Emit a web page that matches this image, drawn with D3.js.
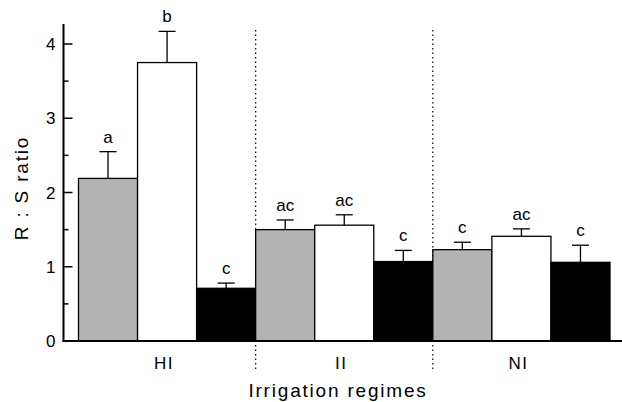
<!DOCTYPE html>
<html>
<head>
<meta charset="utf-8">
<script src="https://cdn.jsdelivr.net/npm/d3@7"></script>
<style>
  body { margin: 0; background: #fff; }
  text { font-family: "Liberation Sans", Arial, sans-serif; fill: #000; }
</style>
</head>
<body>
<svg width="622" height="402"></svg>
<script>
const regimes = ["HI", "II", "NI"];
const treatments = ["gray", "white", "black"];
const fills = ["#b3b3b3", "#ffffff", "#000000"];

// mean R:S ratio per regime, one array per treatment
const grayVals = [2.19, 1.50, 1.23];
const whiteVals = [3.75, 1.56, 1.41];
const blackVals = [0.71, 1.07, 1.06];
// standard error
const grayErr = [0.36, 0.13, 0.10];
const whiteErr = [0.42, 0.14, 0.10];
const blackErr = [0.07, 0.15, 0.23];
// significance letters
const grayLetters = ["a", "ac", "c"];
const whiteLetters = ["b", "ac", "ac"];
const blackLetters = ["c", "c", "c"];

const yTicks = [0, 1, 2, 3, 4];
const yMinor = [0.5, 1.5, 2.5, 3.5];

const vals = [grayVals, whiteVals, blackVals];
const errs = [grayErr, whiteErr, blackErr];
const letters = [grayLetters, whiteLetters, blackLetters];

const data = [];
regimes.forEach((r, i) => {
    treatments.forEach((t, j) => {
        data.push({ regime: r, t: t, idx: j, v: vals[j][i], e: errs[j][i], l: letters[j][i] });
    });
});

const svg = d3.select("svg");

const axisX = 63.5;
const y = d3.scaleLinear().domain([0, 4]).range([341, 44]);

const x0 = d3.scaleBand().domain(regimes).range([78.5, 610]).padding(0);
const x1 = d3.scaleBand().domain(treatments).range([0, x0.bandwidth()]).padding(0);

// dotted separators
svg.selectAll(".sep")
    .data(regimes.slice(1))
    .enter()
    .append("line")
    .attr("x1", d => x0(d))
    .attr("x2", d => x0(d))
    .attr("y1", 30)
    .attr("y2", 371)
    .attr("stroke", "#000")
    .attr("stroke-width", 1.2)
    .attr("stroke-dasharray", "1.5,3");

// bars
svg.selectAll(".bar")
    .data(data)
    .enter()
    .append("rect")
    .attr("x", d => x0(d.regime) + x1(d.t))
    .attr("y", d => y(d.v))
    .attr("width", x1.bandwidth())
    .attr("height", d => y(0) - y(d.v))
    .attr("fill", d => fills[d.idx])
    .attr("stroke", "#000")
    .attr("stroke-width", 1.3);

// error bars
const cx = d => x0(d.regime) + x1(d.t) + x1.bandwidth() / 2;
svg.selectAll(".err")
    .data(data)
    .enter()
    .append("line")
    .attr("x1", cx)
    .attr("x2", cx)
    .attr("y1", d => y(d.v))
    .attr("y2", d => y(d.v + d.e))
    .attr("stroke", "#000")
    .attr("stroke-width", 1.3);

svg.selectAll(".cap")
    .data(data)
    .enter()
    .append("line")
    .attr("x1", d => cx(d) - 8.5)
    .attr("x2", d => cx(d) + 8.5)
    .attr("y1", d => y(d.v + d.e))
    .attr("y2", d => y(d.v + d.e))
    .attr("stroke", "#000")
    .attr("stroke-width", 1.3);

svg.selectAll(".letter")
    .data(data)
    .enter()
    .append("text")
    .attr("x", cx)
    .attr("y", d => y(d.v + d.e) - 9)
    .attr("text-anchor", "middle")
    .style("font-size", "17px")
    .text(d => d.l);

// y axis
const yAxis = svg.append("g").attr("transform", `translate(${axisX},0)`);
yAxis.append("line")
    .attr("x1", 0).attr("x2", 0)
    .attr("y1", 24).attr("y2", y(0) + 1)
    .attr("stroke", "#000").attr("stroke-width", 2);
yAxis.selectAll(".major")
    .data(yTicks)
    .enter()
    .append("line")
    .attr("x1", 0).attr("x2", 9)
    .attr("y1", d => y(d)).attr("y2", d => y(d))
    .attr("stroke", "#000").attr("stroke-width", 1.5);
yAxis.selectAll(".minor")
    .data(yMinor)
    .enter()
    .append("line")
    .attr("x1", 0).attr("x2", 5)
    .attr("y1", d => y(d)).attr("y2", d => y(d))
    .attr("stroke", "#000").attr("stroke-width", 1.5);
yAxis.selectAll(".tl")
    .data(yTicks)
    .enter()
    .append("text")
    .attr("x", -8)
    .attr("y", d => y(d) + 6)
    .attr("text-anchor", "end")
    .style("font-size", "17px")
    .text(d => d);

// x axis
svg.append("line")
    .attr("x1", axisX - 1).attr("x2", 622)
    .attr("y1", y(0)).attr("y2", y(0))
    .attr("stroke", "#000").attr("stroke-width", 2);

svg.selectAll(".cat")
    .data(regimes)
    .enter()
    .append("text")
    .attr("x", d => x0(d) + x0.bandwidth() / 2 - 3)
    .attr("y", 369)
    .attr("text-anchor", "middle")
    .style("font-size", "17px")
    .style("letter-spacing", "1.5px")
    .text(d => d);

svg.append("text")
    .attr("x", 338)
    .attr("y", 397)
    .attr("text-anchor", "middle")
    .style("font-size", "19px")
    .style("letter-spacing", "1.8px")
    .text("Irrigation regimes");

svg.append("text")
    .attr("transform", "translate(28,188) rotate(-90)")
    .attr("text-anchor", "middle")
    .style("font-size", "19px")
    .style("letter-spacing", "1.8px")
    .text("R : S ratio");
</script>
</body>
</html>
